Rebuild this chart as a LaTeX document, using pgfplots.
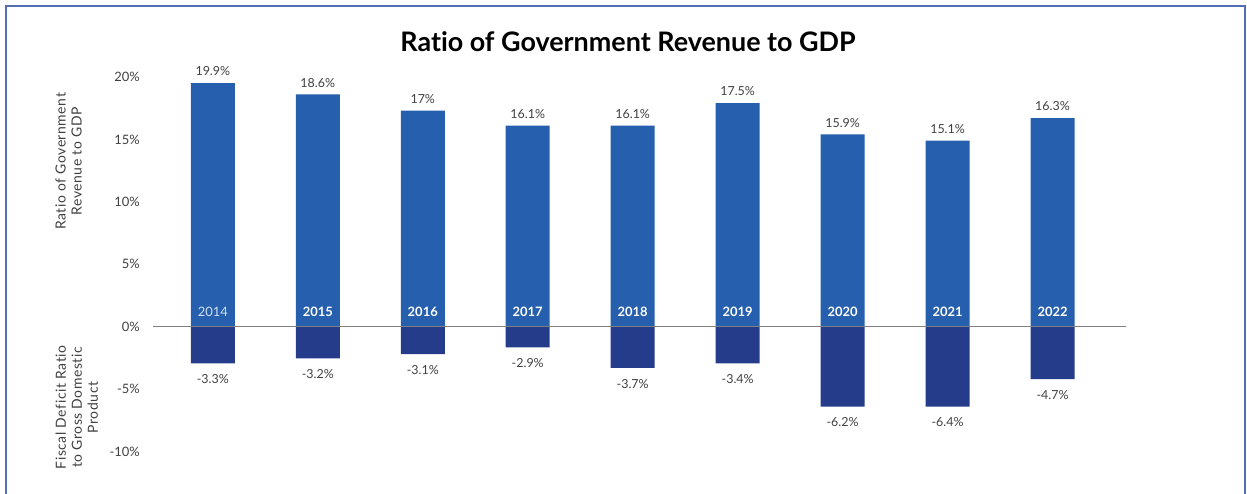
\documentclass[border=0pt]{standalone}
\usepackage{pgfplots}
\pgfplotsset{compat=1.18}
\usepackage{fontspec}
\setmainfont{Lato}[Ligatures={NoCommon}]
\definecolor{posbar}{RGB}{37,95,173}
\definecolor{negbar}{RGB}{36,60,138}
\definecolor{txt}{RGB}{64,64,64}
\definecolor{frame}{RGB}{84,110,180}
\begin{document}
\begin{tikzpicture}
\useasboundingbox (0,0) rectangle (1247bp,494bp);
\draw[frame, line width=1.5bp] (6bp,-2bp) -- (6bp,488bp) -- (1245bp,488bp) -- (1245bp,-2bp);
\node[font=\fontsize{27}{31}\selectfont\bfseries, text=black] at (628bp,452bp) {Ratio of Government Revenue to GDP};
\begin{axis}[
  at={(153bp,42.5bp)}, anchor=south west, scale only axis,
  width=973bp, height=374.5bp,
  xmin=-0.57, xmax=8.7, ymin=-10, ymax=20,
  clip=false,
  axis line style={draw=none}, tick style={draw=none},
  xtick=\empty,
  ytick={-10,-5,0,5,10,15,20},
  yticklabels={-10\%,-5\%,0\%,5\%,10\%,15\%,20\%},
  yticklabel style={font=\fontsize{13}{15}\selectfont, text=txt, anchor=east, inner sep=0pt, xshift=-13bp},
]
\addplot[ybar, bar width=44bp, bar shift=0pt, fill=posbar, draw=none,
  nodes near coords={\pgfplotspointmeta\%}, point meta=explicit symbolic,
  nodes near coords style={font=\fontsize{12.5}{14}\selectfont, text=txt, anchor=south, inner sep=0pt, yshift=7bp}]
  table[meta=lab] {
x y lab
0 19.5 19.9
1 18.6 18.6
2 17.3 17
3 16.1 16.1
4 16.1 16.1
5 17.9 17.5
6 15.4 15.9
7 14.9 15.1
8 16.7 16.3
};
\addplot[ybar, bar width=44bp, bar shift=0pt, fill=negbar, draw=none,
  nodes near coords={\pgfplotspointmeta\%}, point meta=explicit symbolic,
  nodes near coords style={font=\fontsize{12.5}{14}\selectfont, text=txt, anchor=north, inner sep=0pt, yshift=-11bp}]
  table[meta=lab] {
x y lab
0 -2.95 -3.3
1 -2.55 -3.2
2 -2.2 -3.1
3 -1.65 -2.9
4 -3.3 -3.7
5 -2.95 -3.4
6 -6.4 -6.2
7 -6.4 -6.4
8 -4.2 -4.7
};
\draw[gray, line width=1bp] (axis cs:-0.57,0) -- (axis cs:8.7,0);
\addplot[draw=none, nodes near coords, point meta=explicit symbolic,
  nodes near coords style={font=\fontsize{13}{15}\selectfont, text=white!80!posbar, anchor=center, inner sep=0pt}]
  table[meta=lab] {
x y lab
0 1.2 2014
};
\addplot[draw=none, nodes near coords, point meta=explicit symbolic,
  nodes near coords style={font=\fontsize{13}{15}\selectfont\bfseries, text=white, anchor=center, inner sep=0pt}]
  table[meta=lab] {
x y lab
1 1.2 2015
2 1.2 2016
3 1.2 2017
4 1.2 2018
5 1.2 2019
6 1.2 2020
7 1.2 2021
8 1.2 2022
};
\node[rotate=90, align=center, font=\fontsize{14}{16}\selectfont\addfontfeature{LetterSpace=4}, text=txt] at (axis cs:-1.375,13.24) {Ratio of Government\\Revenue to GDP};
\node[rotate=90, align=center, font=\fontsize{14}{16}\selectfont\addfontfeature{LetterSpace=4}, text=txt] at (axis cs:-1.296,-6.47) {Fiscal Deficit Ratio\\to Gross Domestic\\Product};
\end{axis}
\end{tikzpicture}
\end{document}
